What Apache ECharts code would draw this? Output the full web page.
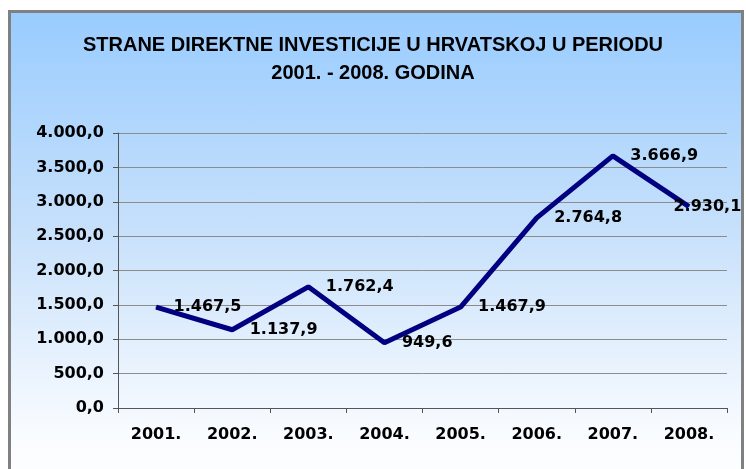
<!doctype html>
<html>
<head>
<meta charset="UTF-8">
<title>Strane direktne investicije</title>
<script src="https://cdn.jsdelivr.net/npm/echarts@6/dist/echarts.min.js"></script>
<style>
html, body { margin: 0; padding: 0; background: #fff; }
#wrap { position: relative; width: 746px; height: 469px; overflow: hidden; }
#frame {
  position: absolute; left: 8px; top: 10px; width: 736px; height: 480px;
  border: 3px solid #808080; box-sizing: border-box;
  background: linear-gradient(to bottom, #99ccff 0%, #c6e0fb 45%, #f8fbff 88%, #ffffff 100%);
}
#chart { position: absolute; left: 0; top: 0; width: 746px; height: 469px; }
</style>
</head>
<body>
<div id="wrap">
  <div id="frame"></div>
  <div id="chart"></div>
</div>
<script type="text/javascript">
// podaci
var godine = ['2001.', '2002.', '2003.', '2004.', '2005.', '2006.', '2007.', '2008.'];
var investicije = [1467.5, 1137.9, 1762.4, 949.6, 1467.9, 2764.8, 3666.9, 2930.1];
var naslov = 'STRANE DIREKTNE INVESTICIJE U HRVATSKOJ U PERIODU\n2001. - 2008. GODINA';

// hrvatski format broja: 1.467,5
function hrBroj(v) {
  var s = Number(v).toFixed(1).split('.');
  var cijeli = s[0].replace(/\B(?=(\d{3})+(?!\d))/g, '.');
  return cijeli + ',' + s[1];
}

var font = 'DejaVu Sans';

var podaci = investicije.map(function (v, i) {
  var item = { value: v };
  if (i == investicije.length - 1) {
    item.label = { offset: [-33, 0] }; // zadnja oznaka ne stane desno
  }
  return item;
});

var chart = echarts.init(document.getElementById('chart'));
var option = {
  backgroundColor: 'transparent',
  animation: false,
  title: {
    text: naslov,
    left: 'center',
    top: 26,
    padding: [5, 0, 5, 12],
    textStyle: {
      fontFamily: 'Liberation Sans',
      fontWeight: 'bold',
      fontSize: 20,
      lineHeight: 28,
      color: '#000'
    }
  },
  grid: { left: 118, right: 19, top: 133, bottom: 61 },
  xAxis: {
    type: 'category',
    data: godine,
    boundaryGap: true,
    axisLine: { lineStyle: { color: '#555', width: 1 } },
    axisTick: { show: true, length: 5, lineStyle: { color: '#555' } },
    axisLabel: {
      margin: 19,
      fontFamily: font,
      fontWeight: 'bold',
      fontSize: 16,
      color: '#000'
    }
  },
  yAxis: {
    type: 'value',
    min: 0,
    max: 4000,
    interval: 500,
    axisLine: { show: true, lineStyle: { color: '#555', width: 1 } },
    axisTick: { show: true, length: 5, lineStyle: { color: '#555' } },
    splitLine: { lineStyle: { color: '#8c8c8c', width: 1 } },
    axisLabel: {
      margin: 14,
      fontFamily: font,
      fontWeight: 'bold',
      fontSize: 16,
      color: '#000',
      formatter: function (v) { return hrBroj(v); }
    }
  },
  series: [{
    type: 'line',
    data: podaci,
    symbol: 'circle',
    symbolSize: 1,
    itemStyle: { color: '#000080' },
    lineStyle: { color: '#000080', width: 5 },
    label: {
      show: true,
      position: 'right',
      distance: 17,
      fontFamily: font,
      fontWeight: 'bold',
      fontSize: 16,
      color: '#000',
      formatter: function (p) { return hrBroj(p.value); }
    }
  }]
};
chart.setOption(option);
</script>
</body>
</html>
